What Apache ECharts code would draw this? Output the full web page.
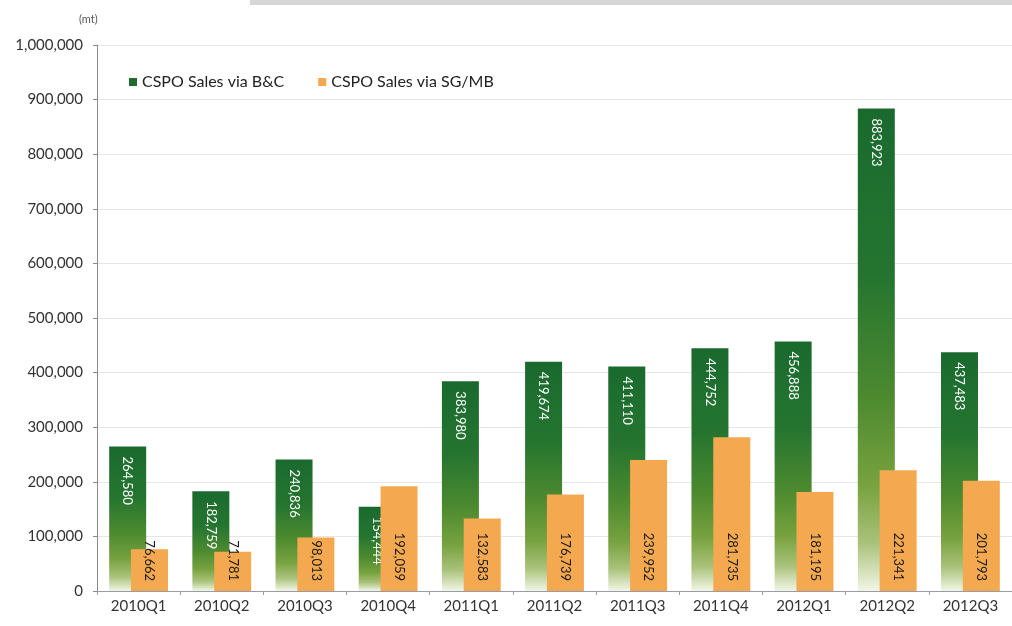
<!DOCTYPE html>
<html>
<head>
<meta charset="utf-8">
<script src="https://cdn.jsdelivr.net/npm/echarts@6/dist/echarts.min.js"></script>
<style>
html,body{margin:0;padding:0;background:#fff;}
#chart{width:1012px;height:626px;}
</style>
</head>
<body>
<div id="chart"></div>
<script>
var categories = ['2010Q1','2010Q2','2010Q3','2010Q4','2011Q1','2011Q2','2011Q3','2011Q4','2012Q1','2012Q2','2012Q3'];
var salesBC = [264580, 182759, 240836, 154444, 383980, 419674, 411110, 444752, 456888, 883923, 437483];
var salesSG = [76662, 71781, 98013, 192059, 132583, 176739, 239952, 281735, 181195, 221341, 201793];
var seriesNames = ['CSPO Sales via B&C', 'CSPO Sales via SG/MB'];
var unitLabel = '(mt)';

function fmt(v){ return String(v).replace(/\B(?=(\d{3})+(?!\d))/g, ','); }

var FONT = 'Lato';
var chart = echarts.init(document.getElementById('chart'));
var greenGrad = new echarts.graphic.LinearGradient(0,0,0,1,[
  {offset:0, color:'#1a6a2f'},
  {offset:0.35, color:'#257530'},
  {offset:0.6, color:'#4d8a2f'},
  {offset:0.78, color:'#77a23f'},
  {offset:0.9, color:'#a9c27a'},
  {offset:1, color:'#f2f6e6'}
]);
chart.setOption({
  animation:false,
  backgroundColor:'#ffffff',
  textStyle:{fontFamily:FONT},
  graphic:[
    {type:'rect', shape:{x:250,y:0,width:762,height:5}, style:{fill:'#d6d6d6'}},
    {type:'text', left:79, top:14, style:{text:unitLabel, fill:'#555', font:'11px '+FONT}}
  ],
  legend:{
    left:124, top:69,
    itemWidth:8, itemHeight:8, itemGap:34,
    icon:'rect',
    textStyle:{fontSize:16, color:'#222', fontFamily:FONT},
    data:[
      {name:seriesNames[0], itemStyle:{color:'#1f6b30'}},
      {name:seriesNames[1], itemStyle:{color:'#f4a950'}}
    ]
  },
  grid:{left:97, right:-4, top:45, bottom:35, containLabel:false},
  xAxis:{
    type:'category', data:categories,
    axisLine:{lineStyle:{color:'#9a9aa8'}},
    axisTick:{show:true, length:4, lineStyle:{color:'#9a9aa8'}},
    axisLabel:{fontSize:15, color:'#333', margin:8, fontFamily:FONT}
  },
  yAxis:{
    type:'value', min:0, max:1000000, interval:100000,
    axisLine:{show:true, lineStyle:{color:'#8a8a8a'}},
    axisTick:{show:true, length:4, lineStyle:{color:'#8a8a8a'}},
    splitLine:{lineStyle:{color:'#e6e6e6'}},
    axisLabel:{fontSize:15, color:'#333', margin:14, fontFamily:FONT, formatter:function(v){return fmt(v);}}
  },
  series:[
    {
      name:seriesNames[0], type:'bar', data:salesBC,
      barWidth:37, barGap:'-41%',
      itemStyle:{color:greenGrad},
      label:{show:true, position:'insideTop', distance:10, rotate:-90, align:'left', verticalAlign:'middle',
        color:'#ffffff', fontSize:13, fontFamily:FONT, formatter:function(p){return fmt(p.value);}}
    },
    {
      name:seriesNames[1], type:'bar', data:salesSG,
      barWidth:37,
      itemStyle:{color:'#f4a950'},
      z:3,
      label:{show:true, position:'insideBottom', distance:10, rotate:-90, align:'right', verticalAlign:'middle',
        color:'#1a1a1a', fontSize:13, fontFamily:FONT, formatter:function(p){return fmt(p.value);}}
    }
  ]
});
</script>
</body>
</html>
